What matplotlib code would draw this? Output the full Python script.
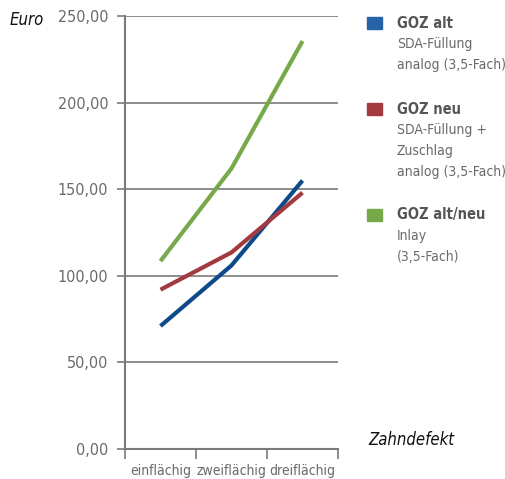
import matplotlib.pyplot as plt
import numpy as np

categories = ["einflächig", "zweiflächig", "dreiflächig"]
goz_alt = [71.0, 106.0, 155.0]
goz_neu = [92.0, 113.5, 148.0]
goz_alt_neu = [108.5, 162.0, 235.5]
y_ticks = [0, 50, 100, 150, 200, 250]

legend_titles = ["GOZ alt", "GOZ neu", "GOZ alt/neu"]
legend_texts = [["SDA-Füllung", "analog (3,5-Fach)"],
                ["SDA-Füllung +", "Zuschlag", "analog (3,5-Fach)"],
                ["Inlay", "(3,5-Fach)"]]

line_colors = ["#0e4a8a", "#a23a40", "#77a94a"]
box_colors = ["#2563a6", "#a23a40", "#77a94a"]
grey = "#7a7a7a"
text_grey = "#6a6a6a"

plt.rcParams['font.family'] = ['DejaVu Sans']
plt.rcParams['font.stretch'] = 'condensed'

fig = plt.figure(figsize=(5.06, 4.79), dpi=100)
ax = fig.add_axes([0.247, 0.0626, 0.421, 0.904])

x = np.arange(len(categories))
for vals, c in zip([goz_alt, goz_neu, goz_alt_neu], line_colors):
    ax.plot(x, vals, color=c, lw=3.0, solid_capstyle='butt', zorder=3)

ax.set_xlim(-0.5, 2.5)
ax.set_ylim(0, 250)
ax.set_yticks(y_ticks)
ax.set_yticklabels([f"{v:.2f}".replace(".", ",") for v in y_ticks])
ax.set_xticks(x)
ax.set_xticklabels(categories)
ax.set_xticks([-0.5, 0.5, 1.5, 2.5], minor=True)
ax.tick_params(axis='x', which='major', length=0, pad=11, labelsize=10, colors=text_grey)
ax.tick_params(axis='x', which='minor', length=7, width=1.2, color=grey, direction='out')
ax.tick_params(axis='y', length=6, width=1.2, color=grey, labelsize=11.5, labelcolor=text_grey, pad=6)
ax.grid(axis='y', color=grey, lw=1.2, zorder=1)

for s in ['top', 'right']:
    ax.spines[s].set_visible(False)
for s in ['left', 'bottom']:
    ax.spines[s].set_color(grey)
    ax.spines[s].set_linewidth(1.5)

fig.text(10 / 506, 1 - 20 / 479, "Euro", style='italic', fontsize=12, color="#111111", va='center')
fig.text(368 / 506, 1 - 440 / 479, "Zahndefekt", style='italic', fontsize=12, color="#111111", va='center')

# legend built by hand, 21 px per line
tops = [23, 109, 215]
for top, title, lines, c in zip(tops, legend_titles, legend_texts, box_colors):
    fig.patches.append(plt.Rectangle((367 / 506, 1 - (top + 6) / 479), 15 / 506, 12 / 479,
                                     transform=fig.transFigure, color=c))
    fig.text(397 / 506, 1 - top / 479, title, fontsize=10.5, weight='bold', color="#555555", va='center')
    for i, line in enumerate(lines):
        fig.text(397 / 506, 1 - (top + 21 * (i + 1)) / 479, line, fontsize=10,
                 color=text_grey, va='center')

fig.savefig("out.png", dpi=100)
